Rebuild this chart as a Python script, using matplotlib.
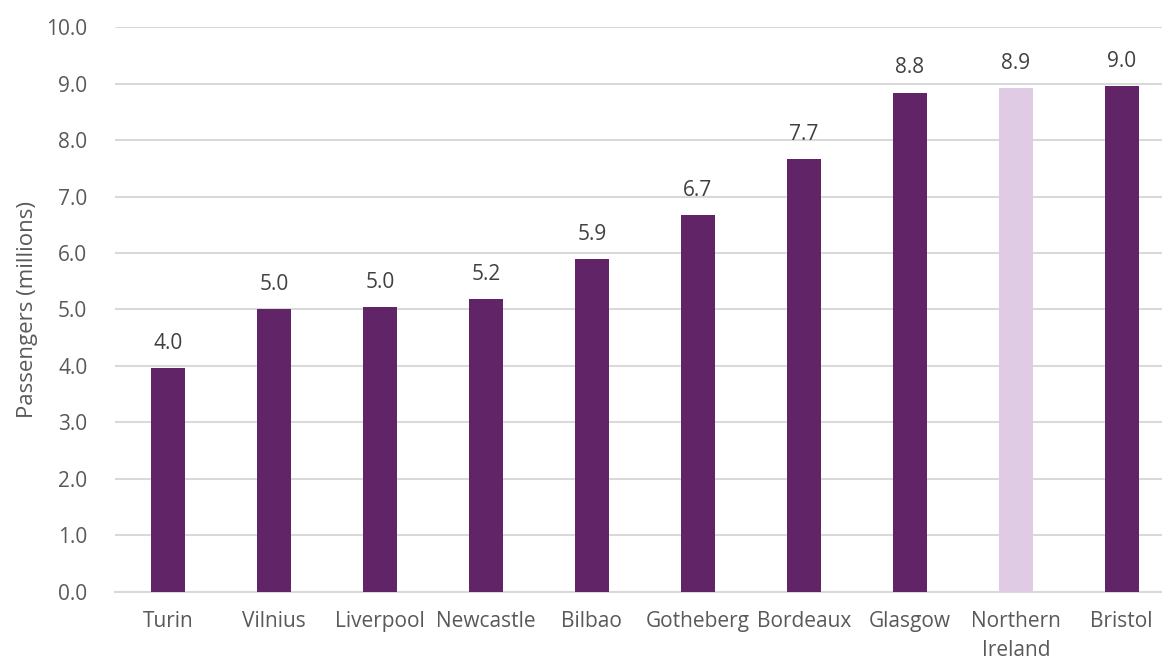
import numpy as np
import matplotlib.pyplot as plt

plt.rcParams['font.family'] = ['Open Sans', 'DejaVu Sans']

cities = ['Turin', 'Vilnius', 'Liverpool', 'Newcastle', 'Bilbao', 'Gotheberg',
          'Bordeaux', 'Glasgow', 'Northern\nIreland', 'Bristol']
passengers = [3.96, 5.00, 5.04, 5.19, 5.90, 6.67, 7.66, 8.84, 8.92, 8.96]
highlight = 'Northern\nIreland'

dark = '#612466'
light = '#DFCCE4'
grey = '#595959'

fig = plt.figure(figsize=(11.62, 6.59), dpi=100)
ax = fig.add_axes([0.099, 0.1017, 0.901, 0.8573])

x = np.arange(len(cities))
colors = [light if c == highlight else dark for c in cities]
bars = ax.bar(x, passengers, width=0.32, color=colors, zorder=3)

for xi, v in zip(x, passengers):
    ax.text(xi, v + 0.25, f'{v:.1f}', ha='center', va='bottom', fontsize=15, color='#404040')

ax.set_ylim(0, 10)
ax.set_yticks(np.arange(0, 10.1, 1))
ax.set_yticklabels([f'{t:.1f}' for t in np.arange(0, 10.1, 1)])
ax.set_xlim(-0.5, 9.38)
ax.set_xticks(x)
ax.set_xticklabels(cities, va='top', linespacing=1.45)
ax.grid(axis='y', color='#D9D9D9', linewidth=1.5, zorder=0)
for s in ['top', 'right', 'left']:
    ax.spines[s].set_visible(False)
ax.spines['bottom'].set_color('#D9D9D9')
ax.spines['bottom'].set_linewidth(1.5)
ax.tick_params(axis='both', length=0, labelsize=15, colors=grey)
ax.tick_params(axis='y', pad=20)
ax.tick_params(axis='x', pad=14)
ax.set_ylabel('Passengers (millions)', fontsize=16, color=grey, labelpad=6)

fig.savefig('out.png', dpi=100)
